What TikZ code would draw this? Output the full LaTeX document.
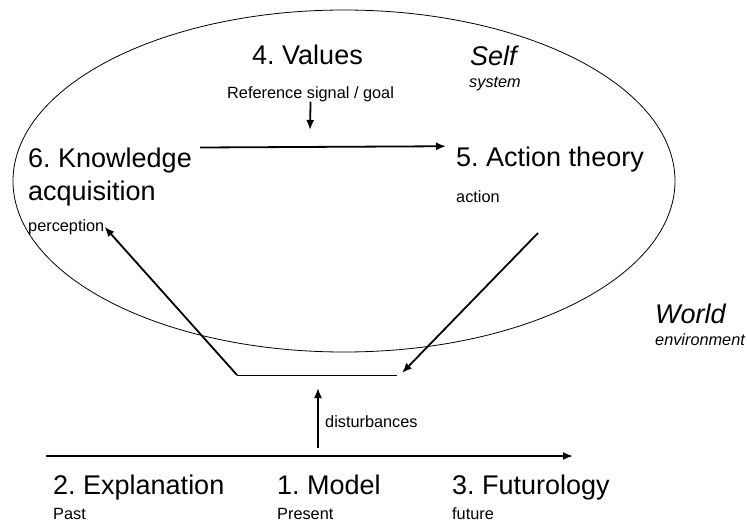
\documentclass[tikz,border=0pt]{standalone}
\usepackage{fontspec}
\setmainfont{Liberation Sans}
\frenchspacing
\usetikzlibrary{arrows.meta, positioning, calc}
\tikzstyle{big} = [inner sep=0, anchor=base west, font=\fontsize{27}{33}\selectfont]
\tikzstyle{small} = [inner sep=0, anchor=base west, font=\fontsize{16.3}{19}\selectfont]
\tikzstyle{arrow} = [line width=1.8pt,->,>={Latex[length=10pt,width=8pt]}]
\tikzstyle{thinline} = [line width=0.8pt]

\begin{document}
\begin{tikzpicture}[x=1pt, y=-1pt]

    \useasboundingbox (0,0) rectangle (747,522);

    % Self
    \draw [thinline] (344,181) ellipse [x radius=331, y radius=171];

    % Testi
    \node (values) [big] at (252,64) {4. Values};
    \node (ref) [small] at (227,98) {Reference signal / goal};
    \node (self) [big, font=\fontsize{27}{33}\selectfont\itshape] at (470,65) {Self};
    \node (system) [small, font=\fontsize{16.3}{19}\selectfont\itshape] at (469,87) {system};
    \node (knowledge) [big, anchor=north west, align=left] at (28,147.5) {6. Knowledge\\acquisition};
    \node (perception) [small] at (28,231) {perception};
    \node (action) [big] at (456,166) {5. Action theory};
    \node (act) [small] at (456,202) {action};
    \node (world) [big, font=\fontsize{27}{33}\selectfont\itshape] at (655,323) {World};
    \node (environment) [small, font=\fontsize{16.3}{19}\selectfont\itshape] at (655,345) {environment};
    \node (dist) [small] at (325,427) {disturbances};
    \node (explanation) [big] at (53,494) {2. Explanation};
    \node (past) [small] at (53,519) {Past};
    \node (model) [big] at (277,494) {1. Model};
    \node (present) [small] at (277,519) {Present};
    \node (futurology) [big] at (452,494) {3. Futurology};
    \node (future) [small] at (452,519) {future};

    % Punti
    \coordinate (goalin) at (310,130);
    \coordinate (wl) at (237,375);
    \coordinate (wr) at (397,375);
    \coordinate (wrin) at (402,373);
    \coordinate (actout) at (538,233);
    \coordinate (dstart) at (318,448);
    \coordinate (dend) at (318,388);
    \coordinate (tl) at (46,456);
    \coordinate (tr) at (573,456);

    % Frecce
    \draw [arrow] (ref.south) -- (goalin);
    \draw [arrow] ([xshift=8]knowledge.north east) -- ([xshift=-10]action.north west);
    \draw [arrow] (actout) -- (wrin);
    \draw [thinline] (wl) -- (wr);
    \draw [arrow] (wl) -- (perception.east);
    \draw [arrow] (dstart) -- (dend);
    \draw [arrow] (tl) -- (tr);

\end{tikzpicture}
\end{document}
